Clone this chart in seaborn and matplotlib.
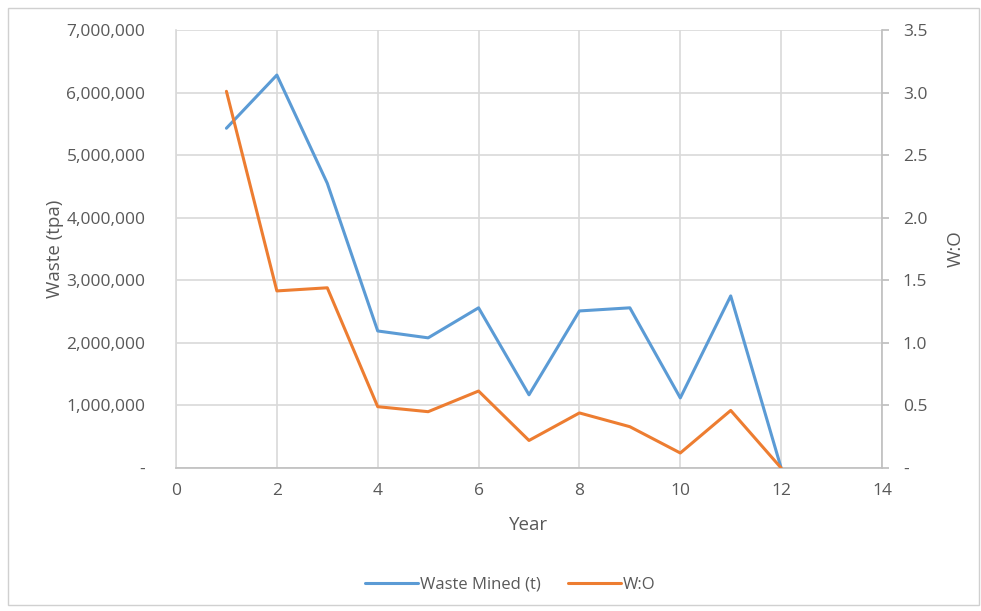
import matplotlib
matplotlib.use("Agg")
import matplotlib.pyplot as plt
import matplotlib.ticker as mticker
import seaborn as sns
import pandas as pd

years = [1, 2, 3, 4, 5, 6, 7, 8, 9, 10, 11, 12]
waste_mined = [5430000, 6280000, 4550000, 2190000, 2080000, 2560000, 1170000,
               2510000, 2560000, 1120000, 2750000, 0]
w_o = [3.01, 1.415, 1.44, 0.49, 0.45, 0.615, 0.22, 0.44, 0.33, 0.12, 0.46, 0.0]

BLUE = "#5B9BD5"
ORANGE = "#ED7D31"
TXT = "#595959"
GRID = "#D9D9D9"

sns.set_theme(style="white")
plt.rcParams["font.family"] = ["Open Sans", "DejaVu Sans"]

df = pd.DataFrame({"Year": years, "Waste": waste_mined, "WO": w_o})

fig = plt.figure(figsize=(9.81, 6.11), dpi=100)
fig.patches.append(plt.Rectangle((0.008, 0.01), 0.99, 0.977, transform=fig.transFigure,
                                 fill=False, edgecolor="#D0D0D0", linewidth=1.0))
ax = fig.add_axes([176/981, 1-468/611, (882-176)/981, (468-30)/611])
ax2 = ax.twinx()

sns.lineplot(data=df, x="Year", y="Waste", ax=ax, color=BLUE, linewidth=2.2,
             label="Waste Mined (t)", legend=False)
sns.lineplot(data=df, x="Year", y="WO", ax=ax2, color=ORANGE, linewidth=2.2,
             label="W:O", legend=False)

ax.set_xlim(0, 14)
ax.set_ylim(0, 7000000)
ax2.set_ylim(0, 3.5)
ax.set_xticks(range(0, 15, 2))
ax.set_yticks(range(0, 7000001, 1000000))
ax2.set_yticks([i * 0.5 for i in range(8)])

ax.yaxis.set_major_formatter(mticker.FuncFormatter(lambda v, p: "-" if v == 0 else f"{int(v):,}"))
ax2.yaxis.set_major_formatter(mticker.FuncFormatter(lambda v, p: "-" if v == 0 else f"{v:.1f}"))

ax.grid(True, color=GRID, linewidth=1.2)
ax.set_axisbelow(True)
ax2.grid(False)

for a in (ax, ax2):
    for s in a.spines.values():
        s.set_visible(False)
ax.spines["bottom"].set_visible(True)
ax.spines["bottom"].set_color("#BFBFBF")
ax.spines["bottom"].set_linewidth(1.2)
ax.spines["left"].set_visible(True)
ax.spines["left"].set_color(GRID)
ax.spines["left"].set_linewidth(1.2)
ax2.spines["right"].set_visible(True)
ax2.spines["right"].set_color("#BFBFBF")
ax2.spines["right"].set_linewidth(1.2)

FS = 12.5
ax.tick_params(axis="both", length=0, labelsize=FS, labelcolor=TXT, pad=11)
ax.tick_params(axis="y", pad=22)
ax2.tick_params(axis="y", length=5, color="#BFBFBF", direction="out", labelsize=FS,
                labelcolor=TXT, pad=10)

ax.set_xlabel("Year", fontsize=13.5, color=TXT, labelpad=12)
ax.set_ylabel("Waste (tpa)", fontsize=13.5, color=TXT, labelpad=2)
ax2.set_ylabel("W:O", fontsize=13.5, color=TXT, labelpad=14, rotation=90)

h1, l1 = ax.get_legend_handles_labels()
h2, l2 = ax2.get_legend_handles_labels()
fig.legend(h1 + h2, l1 + l2, loc="center", bbox_to_anchor=(0.52, 0.043), ncol=2,
           frameon=False, fontsize=12, labelcolor=TXT, handlelength=3.2,
           handletextpad=0.1, columnspacing=1.6)

fig.savefig("out.png", dpi=100)
